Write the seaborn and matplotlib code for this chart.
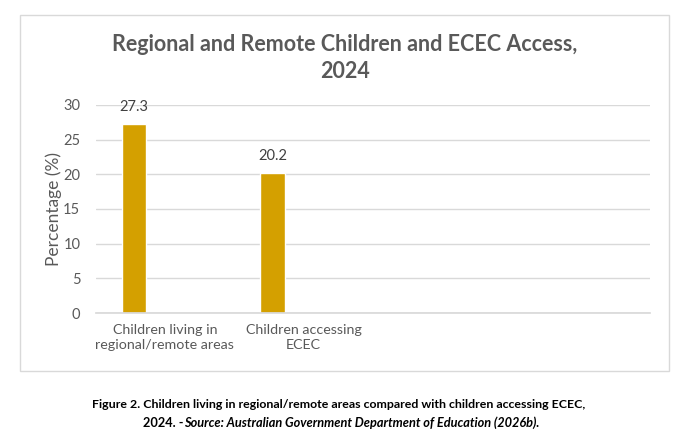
import pandas as pd
import matplotlib
matplotlib.use("Agg")
import matplotlib.pyplot as plt
import seaborn as sns

categories = ["Children living in\nregional/remote areas", "Children accessing\nECEC"]
values = [27.3, 20.2]
# the chart leaves two empty slots on the right
empty_slots = ["_a", "_b"]
y_ticks = [0, 5, 10, 15, 20, 25, 30]

df = pd.DataFrame({"Group": categories, "Percentage": values})

sns.set_theme(style="white")
plt.rcParams["font.family"] = ["Lato", "DejaVu Sans"]

grey = "#595959"
bar_col = "#D4A000"

fig = plt.figure(figsize=(6.93, 4.48), dpi=100)
ax = fig.add_axes([0.138, 0.301, 0.800, 0.465])

sns.barplot(data=df, x="Group", y="Percentage", order=categories + empty_slots,
            color=bar_col, width=0.175, saturation=1, ax=ax)

# bars sit left of the category centre, like the Excel original
for p in ax.patches:
    p.set_x(p.get_x() - 0.224)

ax.bar_label(ax.containers[0], fmt="%.1f", padding=7, fontsize=10.5, color="#404040")

ax.set_xlim(-0.5, 3.5)
ax.set_ylim(0, 30)
ax.set_yticks(y_ticks)
ax.set_xticks(range(4))
ax.set_xticklabels(categories + ["", ""], fontsize=10.3, color=grey, linespacing=1.3)
ax.tick_params(axis="y", labelsize=10.5, labelcolor=grey, length=0, pad=11)
ax.tick_params(axis="x", length=0, pad=8)
ax.yaxis.grid(True, color="#D9D9D9", linewidth=1)
ax.set_axisbelow(True)
for s in ["left", "right", "top"]:
    ax.spines[s].set_visible(False)
ax.spines["bottom"].set_color("#D9D9D9")
ax.set_xlabel("")
ax.set_ylabel("Percentage (%)", fontsize=12.5, color=grey, labelpad=1)

# chart border
fig.patches.append(plt.Rectangle((0.0289, 0.172), 0.9365, 0.795, transform=fig.transFigure,
                                 fill=False, edgecolor="#D9D9D9", linewidth=1))

fig.text(0.498, 1 - 58 / 448, "Regional and Remote Children and ECEC Access,\n2024",
         ha="center", va="center", fontsize=15.5, fontweight="bold", color=grey, linespacing=1.3)

fig.text(0.488, 1 - 404 / 448,
         "Figure 2. Children living in regional/remote areas compared with children accessing ECEC,",
         ha="center", va="center", fontsize=8.9, fontweight="bold", color="black")

# second caption line: bold part then bold italic source, centred together
t1 = fig.text(0, 1 - 423 / 448, "2024. -", ha="left", va="center",
              fontsize=9.2, fontweight="bold", color="black")
t2 = fig.text(0, 1 - 423 / 448, "Source: Australian Government Department of Education (2026b).",
              ha="left", va="center", fontsize=9.2, fontweight="bold", fontstyle="italic", color="black")
fig.canvas.draw()
r = fig.canvas.get_renderer()
w1 = t1.get_window_extent(r).width / fig.bbox.width
w2 = t2.get_window_extent(r).width / fig.bbox.width
x0 = 0.492 - (w1 + w2) / 2
t1.set_x(x0)
t2.set_x(x0 + w1)

fig.savefig("out.png", dpi=100)
